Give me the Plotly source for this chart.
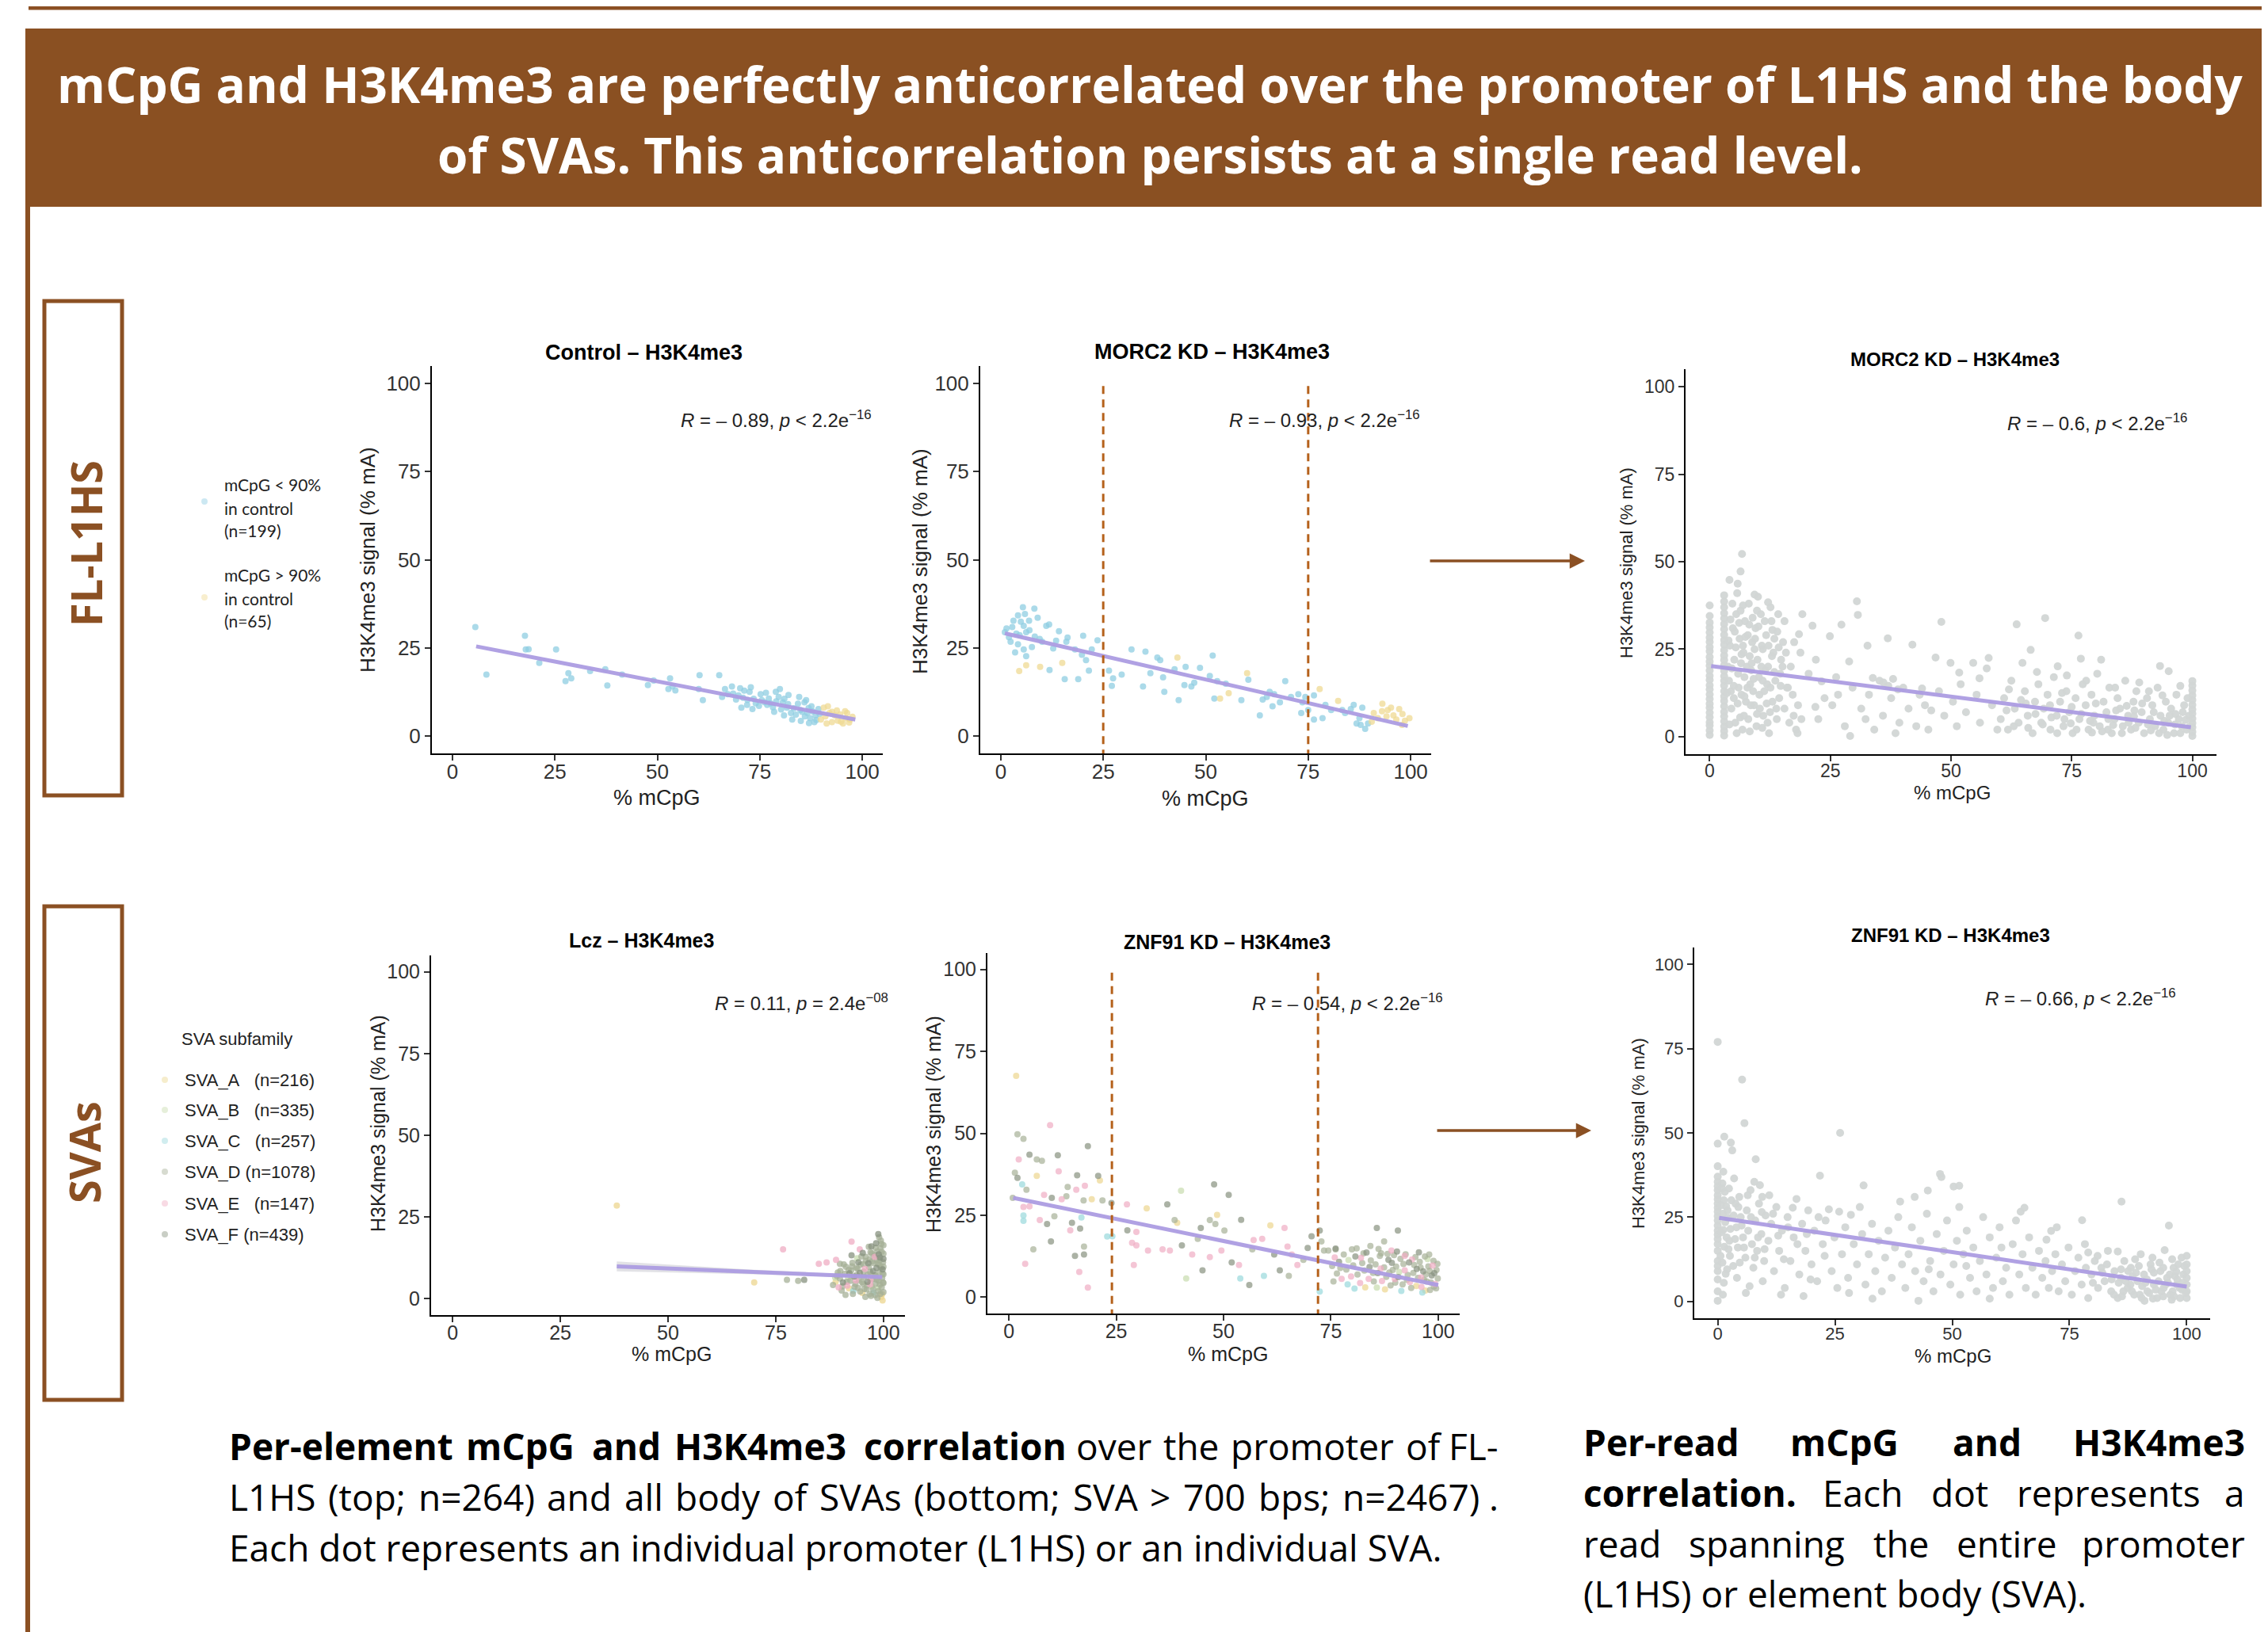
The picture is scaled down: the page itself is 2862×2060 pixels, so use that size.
import plotly.graph_objects as go

W, H = 2862, 2060
OFF = 8  # default page margin of the html body
BROWN = "#8b5023"
DASH = "#b5611b"
FIT = "rgba(172,156,226,0.95)"
CHART_FONT = "Liberation Sans, Arial, sans-serif"
TEXT_FONT = "Open Sans, Lato, sans-serif"

TICKS = [0, 25, 50, 75, 100]
TICK_LABELS = ["0", "25", "50", "75", "100"]

# ---------------- data ----------------
ctrl_low = [(5.6,30.9),(8.3,17.4),(17.7,28.4),(18.6,24.6),(17.9,24.5),(25.3,24.5),(21.2,20.7),(28.3,17.8),(27.6,15.5),(29.0,16.3),
            (33.6,18.4),(37.8,14.3),(37.3,18.9),(41.4,17.4),(47.7,14.4),(49.1,15.7),(53.1,16.3),(52.7,13.3),(54.4,12.9),(53.7,14.0),
            (60.3,17.2),(60.1,13.3),(61.1,10.1),(65.1,17.2),(66.5,13.3),(68.2,14.0),(65.8,11.0),(67.2,11.8),(69.2,10.3),(70.5,8.0),
            (72.5,12.5),(71.9,8.8),(73.2,7.6),(75.2,11.8),(76.2,9.5),(77.2,10.6),(78.9,12.5),(79.9,13.3),(79.6,11.0),(80.6,9.5),
            (81.6,8.0),(82.9,4.6),(82.6,6.5),(84.3,9.1),(84.9,7.3),(85.9,9.5),(86.6,6.5),(87.6,8.4),(88.3,3.9),(88.6,5.8),
            (89.3,7.6),(87.3,5.0),(68.5,12.0),(69.8,11.5),(70.9,10.8),(71.2,12.8),(72.0,10.2),(73.5,10.5),(74.0,9.2),(74.8,8.5),
            (75.5,10.1),(76.8,8.8),(77.6,9.2),(78.2,8.1),(79.0,9.8),(80.2,7.5),(81.0,10.5),(81.9,9.0),(83.3,7.8),(83.8,6.0),
            (85.3,6.8),(86.0,5.5),(86.9,7.9),(87.9,6.9),(88.8,4.5),(89.6,6.2),(70.2,13.5),(72.8,13.8),(76.5,12.2),(82.0,11.6),
            (84.6,11.0),(86.3,10.1),(78.5,6.8),(80.9,5.8),(85.0,4.2),(87.0,3.6)]
ctrl_high = [(90.6,8.0),(91.6,8.4),(92.0,6.5),(93.3,5.8),(94.0,4.3),(94.6,6.1),(96.0,5.0),(97.0,4.6),(97.6,5.4),(92.6,3.9),
             (95.3,3.5),(89.9,4.6),(91.3,3.5),(96.3,6.5),(93.8,7.2),(95.8,7.0),(91.0,5.5),(94.8,4.0),(96.8,3.8),(92.6,6.8)]
ctrl_fit_x = [5.8, 98.3]
ctrl_fit_y = [25.4, 4.6]

morc_low = [(5.4,36.5),(8.2,36.1),(4.2,34.2),(5.9,34.6),(9.0,33.5),(3.1,32.7),(4.9,32.4),(6.9,32.7),(1.4,30.5),(2.8,30.9),
            (5.6,31.2),(11.1,31.2),(11.8,31.6),(1.0,29.4),(3.8,29.0),(6.2,29.4),(8.3,28.2),(2.4,26.7),(4.2,26.0),(5.6,24.5),
            (3.5,23.7),(6.2,22.6),(7.6,25.2),(10.1,26.7),(14.2,29.7),(16.0,26.7),(16.3,27.9),(20.1,28.4),(18.1,24.5),(19.8,23.0),
            (20.8,21.5),(21.5,18.5),(22.2,24.5),(23.6,27.1),(15.6,16.1),(18.9,16.1),(11.9,18.7),(26.4,18.5),(27.4,16.3),(27.1,14.2),
            (29.5,17.4),(31.9,24.5),(35.3,23.9),(34.7,14.0),(38.2,22.2),(38.9,21.5),(36.5,17.8),(39.6,16.6),(39.9,12.5),(42.4,18.9),
            (45.1,19.6),(43.4,10.1),(44.8,14.4),(46.5,14.0),(47.2,15.1),(48.6,19.3),(51.7,22.8),(51.0,17.0),(52.1,10.6),(52.8,15.5),
            (54.9,14.8),(58.7,10.1),(60.4,15.9),(63.2,5.8),(64.9,11.0),(66.3,8.4),(69.4,15.5),(70.8,11.0),(72.6,11.8),(73.3,6.5),
            (73.6,9.5),(76.4,4.6),(76.4,11.5),(78.5,5.0),(79.2,8.8),(83.3,7.3),(85.4,7.6),(87.5,5.0),(88.2,8.0),(88.9,2.0),
            (89.6,3.5),(86.8,3.5),(66.7,11.8),(68.1,9.5),(74.3,11.0),(75.0,7.3),(80.6,7.3),(84.0,6.5),(86.1,8.8),(87.8,3.1),
            (65.6,12.5),(63.9,10.3),(2.0,28.0),(7.0,30.0),(9.5,27.5),(12.8,24.8),(13.5,27.0),(4.6,28.6)]
morc_high = [(4.5,18.4),(6.2,20.0),(9.6,19.6),(15.0,20.7),(43.1,22.2),(53.5,10.6),(55.6,12.1),(60.1,17.8),(77.8,13.3),(82.3,9.9),
             (93.1,9.1),(91.0,6.5),(94.4,7.3),(95.8,5.8),(97.2,7.6),(98.6,4.3),(99.7,5.0),(96.5,4.6),(94.1,5.5),(92.0,5.0),
             (97.9,3.1),(93.0,7.0),(95.2,8.0),(98.0,6.2),(90.5,4.0)]
morc_fit_x = [1.0, 99.3]
morc_fit_y = [29.1, 2.8]

read_morc = [(0,0.5),(0,1.8),(0,3.2),(0,4.1),(0,5.6),(0,6.9),(0,8.3),(0,9.4),(0,10.8),(0,12.1),(0,13.5),(0,14.7),(0,16.2),(0,17.4),
             (0,18.9),(0,20.3),(0,21.5),(0,22.8),(0,24.4),(0,25.6),(0,27.1),(0,28.3),(0,29.8),(0,31.2),(0,32.6),(0,34.5),(0,37.5),
             (3,0.3),(3,1.6),(3,2.9),(3,4.4),(3,5.8),(3,7.1),(3,8.7),(3,10.2),(3,11.5),(3,13.0),(3,14.6),(3,16.0),(3,17.3),(3,18.8),
             (3,20.4),(3,21.9),(3,23.2),(3,24.7),(3,26.3),(3,27.6),(3,29.1),(3,30.7),(3,32.2),(3,33.8),(3,35.3),(3,37.0),(3,38.6),(3,40.4),
             (100,0.2),(100,1.4),(100,2.7),(100,3.9),(100,5.2),(100,6.6),(100,7.8),(100,9.1),(100,10.5),(100,11.8),(100,13.2),(100,14.6),(100,15.9),
             (4.2,26),(4.8,31),(5.1,22),(5.5,35),(5.9,18),(6.2,28),(6.6,12),(7.0,24),(7.3,33),(7.7,20),(8.1,38),(8.4,15),(8.8,27),(9.2,9),
             (9.5,31),(9.9,22),(10.2,17),(10.6,35),(11.0,25),(11.3,13),(11.7,29),(12.1,20),(12.5,7),(12.8,33),(13.2,24),(13.6,16),(14.0,30),
             (14.4,11),(14.8,22),(15.2,27),(4.5,8),(5.3,4),(6.0,14),(6.8,2),(7.5,10),(8.0,5),(8.6,19),(9.0,13),(9.7,3),(10.4,8),(11.1,6),
             (11.9,15),(12.3,1),(13.0,10),(13.9,5),(14.6,18),(15.5,8),(16.0,14),(16.5,4),(17.2,12),(17.9,2),(18.3,9),(19.0,5),(4.0,16),
             (4.7,38),(5.7,41),(6.4,36),(7.9,29),(8.9,34),(10.0,40),(10.8,26),(12.6,37),(13.4,28),(14.2,35),(15.8,24),(6.5,21),(7.2,17),
             (9.3,25),(11.5,19),(12.9,23),(5.0,11),(3.8,20),(4.4,13),(16.8,20),(18.8,24),(17.5,27),(5.2,30),(6.9,26),(8.3,23),(9.8,36),
             (3.6,12.5),(3.9,27.5),(4.3,33.5),(4.6,19.5),(5.0,14.5),(5.4,25.5),(5.8,9.5),(6.1,32.5),(6.3,5.5),(6.6,23.5),(6.9,37.5),
             (7.2,11.5),(7.4,28.5),(7.8,14.0),(8.2,32.0),(8.5,9.0),(8.7,21.0),(9.1,16.5),(9.4,28.0),(9.8,6.5),(10.1,31.5),(10.3,12.0),
             (10.7,20.0),(11.0,16.0),(11.4,33.0),(11.8,9.5),(12.2,26.0),(12.6,14.0),(13.0,30.5),(13.4,18.5),(13.8,8.0),(14.3,25.5),
             (14.7,14.5),(15.1,20.0),(4.1,3.5),(5.6,1.0),(7.1,6.0),(8.3,1.5),(10.9,2.5),(12.0,4.0),
             (6.7,52.2),(6.4,47.2),(4.1,44.8),(5.8,43.7),(9.3,40.6),(12.1,38.4),
             (15.5,33),(16.2,14),(17.4,6),(18.5,29.3),(19.2,35.0),(18.2,1),(20.5,18),(21.3,31.7),(22.0,22),(22.5,5),(23.8,11),(24.9,28.7),
             (25.4,9),(26.2,17),(27.3,32.0),(28.0,3),(29.1,0.2),(29.6,14),(30.5,38.7),(30.7,34.8),(31.4,8),(32.3,5),(33.0,12),(34.1,2),
             (35.2,16),(35.9,6),(36.9,28.1),(37.6,11),(38.5,1),(39.3,4),(40.1,14),(41.2,8),(42.0,26.3),(42.8,3),(43.5,12),(44.6,9),
             (45.3,2),(46.8,22.6),(47.5,13),(48.0,32.8),(48.6,6),(49.9,21.1),(50.4,10),(51.2,3),(52.0,15),(53.1,7),(54.6,21.1),(55.3,12),
             (56.0,4),(57.4,19.5),(57.8,22.5),(58.5,9),(59.6,2),(36.0,15.5),(37.0,14.5),(38.0,16.5),(39.0,13.5),(33.8,16.8),(44.0,13.8),
             (26.6,12),(21.9,8.5),(23.2,15.8),(28.9,21.5),(32.7,26.0),(45.9,7.5),(51.7,18.3),(55.9,16.7),
             (60.3,5),(61.0,11),(61.8,2),(62.5,16),(63.6,32.1),(63.2,8),(64.0,4),(64.8,21.1),(65.3,13),(65.9,6),(66.5,24.8),(66.9,1),
             (67.4,10),(68.1,15),(68.7,4),(69.5,33.9),(69.2,8),(70.0,12),(70.6,2),(71.3,17),(72.1,20.1),(71.9,6),(72.6,10),(73.3,3),
             (73.9,13),(74.5,7),(75.2,1),(75.8,11),(76.4,28.9),(76.9,22.3),(76.6,5),(77.3,15),(77.9,9),(78.5,2),(79.1,12),(79.7,6),
             (80.3,18),(80.8,3),(81.1,22.0),(81.6,10),(82.2,7),(82.8,14),(83.3,1),(83.9,5),(84.5,11),(85.0,8),(85.6,3),(86.1,16),
             (86.7,6),(87.3,2),(87.8,10),(88.4,13),(88.9,4),(89.5,7),(90.0,1),(90.6,11),(91.2,5),(91.7,9),(92.3,3),(92.8,14),(93.3,20.2),
             (93.4,6),(94.0,2),(94.5,10),(95.1,18.7),(95.0,4),(95.6,8),(96.2,1),(96.7,12),(97.2,5),(97.8,3),(98.3,9),(98.8,2),(99.3,6),
             (62.0,13.5),(67.8,18.5),(74.0,17.5),(78.0,16.0),(84.0,14.0),(89.0,15.5),(91.0,13.0),(97.5,14.5),(70.8,5.5),(79.5,4.0),
             (86.4,8.8),(93.8,11.8),(98.0,7.0),(99.0,11.0),(65.5,9.5),(73.0,12.5),(82.5,2.0),(88.0,7.5),(94.8,0.5),(96.5,6.5),
             (61.5,7.5),(63.0,3.0),(64.5,10.5),(66.0,2.5),(67.5,6.5),(69.0,3.5),(70.5,9.0),(72.0,1.0),(73.5,5.0),(75.0,8.5),(76.0,2.0),
             (77.0,6.5),(78.8,4.5),(80.0,9.5),(81.3,1.5),(82.6,5.0),(84.2,7.5),(85.4,1.0),(86.8,4.0),(88.2,2.5),(89.6,9.5),(90.8,3.5),
             (92.0,7.0),(93.1,1.0),(94.2,4.5),(95.3,6.0),(96.4,3.5),(97.5,1.0),(98.6,4.8),(99.4,2.8),(91.4,1.8),(87.9,5.8),(83.6,3.3),
             (79.2,1.2),(74.8,3.8)]
read_morc_fit_x = [0.3, 99.7]
read_morc_fit_y = [20.2, 2.7]

sva_lcz = [(38.1,28.5,'A'),(76.7,15.1,'E'),(70.0,5.0,'A'),(77.6,5.8,'D'),(81.6,5.8,'F'),(80.2,5.5,'D'),(85.0,10.7,'E'),(86.8,11.1,'E'),
           (89.0,11.9,'E'),(92.6,17.5,'E'),(94.5,15.1,'E'),(98.8,19.8,'F'),(96.6,15.9,'D'),(92.6,13.3,'F'),(89.9,10.7,'D'),(99.7,1.4,'A'),
           (88.3,4.2,'D'),(88.8,6.5,'B'),(89.4,8.0,'D'),(89.6,3.5,'E'),(88.9,5.2,'A'),(89.9,6.2,'D'),
           (90.3,2.5,'D'),(90.6,5.0,'F'),(91.0,7.6,'D'),(91.3,9.8,'D'),(91.6,4.0,'E'),(91.8,6.3,'B'),(90.8,10.5,'D'),(92.0,3.2,'A'),
           (92.3,5.5,'D'),(92.5,8.6,'D'),(92.8,11.0,'D'),(93.0,2.4,'C'),(93.2,6.8,'F'),(93.5,4.5,'D'),(93.7,9.5,'D'),(93.9,12.4,'B'),(92.9,1.5,'D'),
           (94.1,3.3,'D'),(94.3,5.8,'D'),(94.5,7.9,'F'),(94.7,10.4,'D'),(94.9,12.9,'D'),(95.1,1.8,'A'),(95.3,4.6,'D'),(95.5,6.7,'D'),
           (95.7,9.1,'E'),(95.9,11.6,'D'),(95.2,14.0,'F'),(95.8,0.6,'D'),
           (96.1,2.9,'D'),(96.3,5.2,'F'),(96.4,7.4,'D'),(96.6,9.8,'D'),(96.8,12.1,'D'),(97.0,14.2,'D'),(97.1,0.9,'D'),(97.3,3.8,'B'),
           (97.5,6.1,'D'),(97.6,8.5,'F'),(97.8,10.9,'D'),(97.9,13.3,'D'),(97.2,16.0,'F'),(97.7,1.9,'C'),
           (98.1,4.6,'D'),(98.2,7.1,'D'),(98.4,9.4,'F'),(98.5,11.8,'D'),(98.6,14.5,'D'),(98.8,2.3,'D'),(98.9,5.5,'D'),(99.0,8.0,'D'),
           (99.1,10.3,'D'),(99.2,12.6,'F'),(99.3,15.5,'D'),(99.4,17.8,'D'),(99.5,0.5,'A'),(99.6,3.5,'D'),(99.7,6.3,'D'),(99.8,9.0,'F'),
           (99.9,11.2,'D'),(100,13.8,'D'),(100,4.8,'D'),(100,2.0,'D'),(98.3,17.0,'F'),(99.0,18.8,'D'),(98.0,12.8,'E'),(97.4,11.5,'D'),
           (96.9,4.4,'E'),(95.6,3.0,'D'),(94.0,9.2,'D'),(91.2,1.2,'D'),(100,7.5,'D'),(99.3,1.5,'D'),(98.6,0.3,'D'),(99.8,-0.5,'A'),
           (90.0,8.5,'D'),(90.5,3.8,'D'),(91.5,5.2,'D'),(92.1,7.8,'F'),(92.7,9.9,'D'),(93.3,3.6,'D'),(93.8,7.3,'D'),(94.2,11.2,'F'),
           (94.6,2.2,'D'),(95.0,5.1,'D'),(95.4,8.3,'D'),(95.9,12.8,'D'),(96.2,4.1,'D'),(96.5,10.9,'F'),(96.9,8.2,'D'),(97.3,13.9,'D'),
           (97.6,2.9,'D'),(97.9,7.2,'D'),(98.2,15.6,'D'),(98.4,5.9,'D'),(98.7,10.7,'D'),(98.9,13.6,'F'),(99.2,4.3,'D'),(99.4,9.6,'D'),
           (99.6,14.4,'D'),(99.8,7.7,'D'),(100,12.2,'F'),(100,16.4,'D'),(100,9.8,'D'),(99.5,16.8,'D'),(98.1,1.1,'D'),(96.8,1.4,'D'),
           (95.3,10.6,'D'),(93.6,5.6,'E'),(91.9,8.8,'D'),(89.2,7.0,'D'),(97.0,5.8,'E'),(98.8,3.4,'B'),(99.9,5.0,'D'),(99.1,11.8,'D')]
lcz_fit_x = [38.1, 70.0, 99.7]
lcz_fit_y = [9.9, 8.2, 6.6]
lcz_ci_lo = [8.4, 7.5, 6.2]
lcz_ci_hi = [11.4, 8.9, 7.0]

sva_znf = [(1.7,67.5,'A'),(9.6,52.5,'E'),(2.0,49.7,'D'),(3.4,48.3,'D'),(18.4,46.1,'F'),(4.8,43.5,'F'),(6.5,42.0,'D'),(7.7,41.6,'D'),
           (11.4,43.3,'F'),(2.3,42.0,'E'),(11.6,38.4,'E'),(1.4,38.0,'D'),(2.0,36.4,'F'),(6.5,37.0,'A'),(15.9,37.2,'F'),(20.8,37.0,'F'),
           (21.2,35.6,'A'),(3.1,34.4,'C'),(4.1,32.8,'D'),(13.7,33.6,'D'),(17.7,34.0,'E'),(15.7,32.8,'E'),(40.1,32.5,'B'),(47.8,34.4,'F'),
           (51.2,31.2,'F'),(0.9,30.3,'D'),(8.2,31.2,'E'),(10.0,30.3,'F'),(12.3,29.9,'E'),(13.4,30.8,'D'),(17.4,29.5,'D'),(19.3,29.9,'A'),
           (21.8,29.5,'D'),(23.9,28.7,'F'),(36.9,28.3,'F'),(27.5,28.3,'E'),(32.1,27.1,'A'),(3.4,27.5,'E'),(4.8,27.7,'E'),(3.4,24.9,'C'),
           (3.4,23.3,'C'),(7.2,23.5,'E'),(8.9,22.3,'F'),(10.6,24.7,'D'),(14.7,22.7,'F'),(16.6,20.9,'F'),(14.3,20.4,'E'),(16.9,24.3,'C'),
           (22.9,18.5,'C'),(24.1,18.6,'C'),(27.6,20.4,'F'),(29.7,19.9,'E'),(28.7,16.6,'E'),(29.7,15.8,'E'),(32.4,14.2,'E'),(29.1,9.8,'E'),
           (9.8,17.0,'F'),(5.7,14.6,'D'),(3.8,10.2,'E'),(15.4,12.6,'F'),(17.5,13.0,'F'),(17.5,15.4,'D'),(16.4,7.7,'E'),(18.4,2.9,'E'),
           (35.8,14.6,'E'),(37.5,14.2,'E'),(38.6,23.5,'D'),(39.2,22.7,'A'),(41.3,5.7,'B'),(40.3,15.8,'F'),(44.7,21.1,'F'),(44.0,17.8,'D'),
           (46.8,23.5,'D'),(48.1,22.3,'D'),(48.5,25.1,'A'),(50.2,20.3,'D'),(45.1,8.2,'F'),(42.7,13.0,'E'),(46.8,12.2,'E'),(49.5,14.2,'E'),
           (51.9,10.6,'F'),(54.1,23.6,'F'),(53.6,9.8,'E'),(53.9,5.7,'C'),(56.0,3.7,'F'),(57.0,17.4,'E'),(56.7,14.6,'D'),(59.0,17.8,'E'),
           (60.9,21.9,'A'),(61.8,13.0,'F'),(59.4,6.5,'C'),(63.1,8.2,'F'),(64.2,21.1,'E'),(64.9,15.4,'E'),(65.2,6.5,'D'),(65.9,13.0,'E'),
           (67.2,9.8,'E'),(68.6,11.4,'D'),(69.6,15.0,'F'),(70.5,18.6,'F'),(72.4,20.3,'F'),(72.8,17.0,'D'),(73.4,14.2,'D'),(74.4,14.2,'D'),
           (76.1,14.6,'D'),(72.4,1.7,'C'),(79.9,14.6,'D'),(82.6,13.4,'D'),(84.2,15.6,'D'),(85.7,21.1,'F'),(87.4,17.0,'D'),(90.6,20.3,'F'),
           (86.7,13.4,'D'),(92.2,12.6,'E'),(89.1,14.2,'E'),
           (75.3,9.5,'D'),(75.9,12.1,'E'),(76.4,7.2,'D'),(76.9,10.8,'F'),(77.5,5.6,'E'),(78.0,13.0,'D'),(78.6,8.4,'D'),(79.1,11.3,'B'),
           (79.7,6.3,'E'),(75.6,4.8,'D'),(77.2,8.9,'D'),(78.9,3.9,'C'),(76.1,14.8,'F'),
           (80.2,9.7,'D'),(80.7,12.4,'F'),(81.2,6.9,'D'),(81.8,4.3,'E'),(82.3,10.4,'D'),(82.8,8.1,'D'),(83.3,13.6,'F'),(83.8,5.6,'E'),
           (84.3,11.2,'D'),(84.8,7.4,'D'),(81.0,14.9,'D'),(83.0,3.0,'A'),(84.0,9.2,'F'),(80.5,2.6,'C'),(82.0,12.0,'E'),(85.0,4.8,'D'),
           (85.4,10.0,'D'),(85.9,7.3,'F'),(86.4,12.6,'D'),(86.9,4.9,'E'),(87.4,9.1,'D'),(87.9,6.2,'D'),(88.4,11.4,'F'),(88.9,3.6,'D'),
           (89.4,8.3,'D'),(89.9,5.5,'E'),(86.1,14.7,'D'),(87.6,2.4,'A'),(88.2,13.2,'D'),(89.2,10.5,'F'),(85.7,2.9,'B'),(86.6,8.7,'E'),
           (88.6,7.5,'D'),(89.7,12.8,'D'),
           (90.2,9.3,'D'),(90.7,6.1,'F'),(91.2,11.7,'D'),(91.7,3.9,'D'),(92.2,8.2,'E'),(92.7,5.3,'D'),(93.2,10.6,'F'),(93.7,2.8,'D'),
           (94.2,7.4,'D'),(94.7,12.2,'D'),(90.4,13.9,'F'),(91.4,1.9,'C'),(92.4,13.1,'D'),(93.4,4.6,'E'),(94.4,9.8,'D'),(90.9,7.7,'B'),
           (91.9,10.1,'D'),(92.9,6.8,'D'),(93.9,11.5,'E'),(94.9,3.4,'A'),(90.0,4.4,'D'),(95.0,8.6,'F'),
           (95.3,5.9,'D'),(95.7,10.8,'D'),(96.1,3.1,'E'),(96.5,7.9,'F'),(96.9,12.4,'D'),(97.3,4.8,'D'),(97.7,9.4,'D'),(98.1,2.2,'D'),
           (98.5,6.6,'F'),(98.9,11.1,'D'),(99.3,4.0,'E'),(99.6,8.3,'D'),(99.9,5.7,'D'),(95.5,13.7,'F'),(96.3,1.4,'C'),(97.1,6.9,'D'),
           (97.9,13.0,'D'),(98.7,9.6,'E'),(99.5,2.7,'D'),(96.7,5.2,'D'),(98.3,4.5,'D'),(99.1,7.3,'F'),(95.9,9.0,'D'),(97.5,11.6,'B'),
           (99.8,10.2,'D'),(98.0,8.0,'D'),(96.0,6.0,'E'),(99.0,3.2,'D'),(97.0,2.0,'A')]
znf_fit_x = [1.0, 100.0]
znf_fit_y = [30.3, 3.7]

read_znf = [(0,0.2),(0,3.0),(0,6.5),(0,9.0),(0,10.5),(0,12.0),(0,15.0),(0,17.0),(0,18.5),(0,19.8),(0,21.0),(0,22.5),(0,24.0),
            (0,25.3),(0,26.6),(0,27.8),(0,29.0),(0,30.3),(0,31.5),(0,33.0),(0,34.2),(0,35.5),(0,37.0),(0,40.1),(0,46.8),(0,77.0),
            (1.4,48.9),(1.2,38.5),(1.0,35),(1.5,32.5),(1.3,30.0),(1.8,28.2),(1.1,26.0),(1.6,23.5),(1.2,21.2),(1.9,19.0),(1.4,16.2),
            (1.0,11.5),(1.7,8.2),(1.3,5.5),(2.1,27.0),(2.4,33.5),(2.2,24.8),(2.5,18.0),(2.8,47.1),(3.1,44.8),(2.6,13.5),
            (3.5,36.5),(3.8,29),(4.0,22),(4.3,16),(4.1,7),(4.6,31),(4.9,25),(5.2,65.8),(5.7,52.9),(5.4,19),(5.9,13),(6.2,27),(6.5,21),
            (6.8,4.5),(7.0,33),(7.3,17),(7.6,10),(8.1,42.2),(8.0,24),(8.4,15),(8.8,29),(9.0,34.5),(9.3,20),(9.6,6),(9.9,12),(10.2,25.5),
            (3.3,10.5),(6.0,2.5),(7.8,35.5),(9.5,31),
            (0.6,13.5),(0.8,20.5),(0.7,28.5),(0.9,33.5),(1.1,2.0),(2.0,9.5),(2.3,15.5),(2.7,21.5),(2.9,30.0),(3.4,25.5),(3.7,18.5),
            (4.4,28.0),(4.7,11.5),(5.1,22.5),(5.6,16.0),(6.4,31.5),(7.1,25.0),(7.9,13.0),(8.6,19.0),(9.4,26.5),(10.0,15.5),(11.8,26.0),
            (12.9,19.5),(14.1,12.5),(15.0,22.0),(17.0,17.0),(19.0,20.0),(21.5,25.0),
            (10.8,18),(11.4,23),(12.0,9),(12.5,28),(13.1,15),(13.7,21),(14.3,4),(14.9,25),(15.5,12),(16.2,19),(16.8,30.4),(17.4,8),
            (18.0,23),(18.3,1.6),(18.7,15),(19.3,27),(20.0,11),(20.6,21),(21.2,6),(21.8,37.3),(22.4,17),(23.0,24),(23.7,27.3),(24.3,9),
            (24.9,19),(25.5,4),(25.9,26.6),(26.1,50.0),(26.5,14),(27.2,22),(27.8,7),(28.4,25.7),(29.0,17),(29.7,11),(30.3,28.0),(30.8,20),
            (31.1,34.4),(31.5,5),(32.2,14),(32.9,23),(33.6,9),(34.3,18),(35.0,3),(35.7,13),(36.4,21),(37.1,7),(37.8,16),(38.5,25),
            (38.9,29.6),(39.3,11),(19.8,6.5),(13.5,2.0),(28.0,2.5),(33.0,0.8),(22.8,13.5),(16.0,27.8),(11.0,31.5),
            (40.0,4),(40.7,14),(41.4,22),(42.0,31.0),(42.1,9),(42.8,0.2),(43.2,18),(43.9,6),(44.6,26),(44.8,32.9),(45.3,12),(46.0,3),
            (46.7,20),(47.4,37.8),(47.7,36.9),(47.5,8),(48.2,15),(48.9,24),(49.6,5),(50.3,34.1),(50.3,11),(51.0,18),(51.5,34.3),(51.5,28.0),
            (51.7,2),(52.4,14),(53.1,21),(53.8,7),(54.5,16),(55.2,3),(55.9,12),(56.6,25),(57.3,8),(58.0,19),(58.7,4),(59.4,13),(60.1,22),
            (60.8,6),(61.5,10),(62.2,2),(62.9,17),(63.6,24),(64.3,8),(64.6,26.6),(65.0,14),(65.4,27.8),(65.7,4),(66.4,19),(67.1,10),
            (67.8,2),(68.5,15),(69.2,7),(69.9,12),(70.1,18.3),(71.1,20.9),(72.3,22.0),(70.6,4),(71.3,9),(72.0,14),(72.7,3),(73.4,11),
            (74.1,6),(74.8,16),(45.0,9.5),(53.0,10.5),(60.5,16.0),(58.0,0.8),
            (75.5,2),(76.2,9),(76.9,13),(77.7,24.1),(77.6,5),(78.3,17),(79.0,1),(79.7,8),(80.4,12),(81.1,4),(81.8,10),(82.5,6),(83.2,15),
            (83.9,3),(84.6,9),(85.3,14.8),(85.3,1),(86.1,29.6),(86.0,7),(86.7,12),(87.4,4),(88.1,10),(88.8,2),(89.5,6),(90.2,14),(91.0,0.2),
            (90.9,8),(91.6,3),(92.3,11),(93.0,5),(93.7,1),(94.4,9),(95.1,4),(95.3,15.2),(95.8,7),(96.2,22.5),(96.5,2),(97.2,10),(97.9,5),
            (98.6,1),(99.3,8),(100,13.5),(100,11),(100,9),(100,7),(100,5),(100,3),(100,1),(99.0,3.5),(98.0,6.5),(97.0,3.0),(96.0,5.5),
            (95.0,1.5),(94.0,6.0),(93.0,8.5),(92.0,2.5),(91.5,6.5),(90.5,4.5),(89.8,10.5),(89.0,12.5),(88.5,7.5),(87.5,9.0),(86.5,3.0),
            (85.5,5.5),(84.0,6.5),(83.0,11.0),(82.0,8.5),(81.0,13.5),(80.0,5.5),(79.0,14.5),(78.5,10.0),(99.5,10.5),(98.5,4.0),(97.5,7.5),
            (96.8,0.5),(94.6,3.0),(92.7,13.0),(90.0,2.0),(88.0,5.0),(86.0,9.5),(84.5,2.0),
            (86.2,1.5),(87.0,6.0),(88.3,3.0),(89.2,8.5),(90.4,1.0),(91.2,5.5),(92.5,9.5),(93.4,3.5),(94.2,11.5),(95.5,5.0),(96.4,8.0),
            (97.3,1.5),(98.2,11.0),(99.1,5.5),(99.8,2.5),(92.8,0.8),(96.9,12.5),(95.0,10.0),(97.8,8.8),(98.9,13.0)]
read_znf_fit_x = [0.3, 100.0]
read_znf_fit_y = [24.8, 4.4]

sva_groups = ["A", "B", "C", "D", "E", "F"]
sva_names = ["SVA_A", "SVA_B", "SVA_C", "SVA_D", "SVA_E", "SVA_F"]
sva_counts = ["(n=216)", "(n=335)", "(n=257)", "(n=1078)", "(n=147)", "(n=439)"]
sva_colors = {"A": "#ecd68f", "B": "#c7dcae", "C": "#98d8dc", "D": "#a6b097", "E": "#efacc3", "F": "#87927f"}

panel_titles = ["Control \u2013 H3K4me3", "MORC2 KD \u2013 H3K4me3", "MORC2 KD \u2013 H3K4me3",
                "Lcz \u2013 H3K4me3", "ZNF91 KD \u2013 H3K4me3", "ZNF91 KD \u2013 H3K4me3"]
panel_stats = [("\u2013 0.89", "&lt;", "2.2e", "\u221216"), ("\u2013 0.93", "&lt;", "2.2e", "\u221216"),
               ("\u2013 0.6", "&lt;", "2.2e", "\u221216"), ("0.11", "=", "2.4e", "\u221208"),
               ("\u2013 0.54", "&lt;", "2.2e", "\u221216"), ("\u2013 0.66", "&lt;", "2.2e", "\u221216")]
morc_cutoffs = [25, 75]
znf_cutoffs = [24, 72]

# caption lines: (word, bold)
cap_left_1 = [("Per-element", 1), ("mCpG", 1), ("and", 1), ("H3K4me3", 1), ("correlation", 1),
              ("over", 0), ("the", 0), ("promoter", 0), ("of", 0), ("FL-", 0)]
cap_left_2 = [("L1HS", 0), ("(top;", 0), ("n=264)", 0), ("and", 0), ("all", 0), ("body", 0), ("of", 0), ("SVAs", 0),
              ("(bottom;", 0), ("SVA", 0), (">", 0), ("700", 0), ("bps;", 0), ("n=2467)", 0), (".", 0)]
cap_left_3 = "Each dot represents an individual promoter (L1HS) or an individual SVA."
cap_right_1 = [("Per-read", 1), ("mCpG", 1), ("and", 1), ("H3K4me3", 1)]
cap_right_2 = [("correlation.", 1), ("Each", 0), ("dot", 0), ("represents", 0), ("a", 0)]
cap_right_3 = [("read", 0), ("spanning", 0), ("the", 0), ("entire", 0), ("promoter", 0)]
cap_right_4 = "(L1HS) or element body (SVA)."

# ---------------- layout geometry (window pixels) ----------------
FW = W - OFF
FH = H - OFF


def PX(x):
    return (x - OFF) / FW


def PY(y):
    return 1 - (y - OFF) / FH


rects = [(545, 1114, 462, 951), (1237, 1806, 462, 951), (2127, 2797, 466, 952),
         (544, 1142, 1206, 1660), (1246, 1842, 1203, 1658), (2138, 2789, 1196, 1664)]
tick_sizes = [26, 26, 23, 25, 25, 22]
title_pos = [(813, 445, 27), (1529, 444, 27), (2467, 454, 24), (809, 1187, 25), (1548, 1189, 25), (2461, 1180, 24)]
stat_pos = [(979, 529), (1671, 529), (2646, 533), (1011, 1265), (1700, 1265), (2625, 1259)]
xt_pos = [(829, 1007, 27), (1521, 1008, 27), (2463, 1000, 24), (847, 1709, 25), (1549, 1709, 25), (2464, 1711, 24)]
yt_pos = [(464, 707, 26), (1161, 709, 26), (2053, 711, 22), (477, 1418, 25), (1178, 1419, 25), (2067, 1431, 22)]

fig = go.Figure()
layout_axes = {}
for i, (l, r, t, b) in enumerate(rects):
    n = "" if i == 0 else str(i + 1)
    common = dict(range=[-5, 105], showline=True, linecolor="black", linewidth=2, ticks="outside",
                  ticklen=7, tickwidth=2, tickcolor="#333333", tickvals=TICKS, ticktext=TICK_LABELS,
                  tickfont=dict(family=CHART_FONT, size=tick_sizes[i], color="#333333"),
                  showgrid=False, zeroline=False, fixedrange=True)
    layout_axes["xaxis" + n] = dict(domain=[PX(l), PX(r)], anchor="y" + n, ticklabelstandoff=-8, **common)
    layout_axes["yaxis" + n] = dict(domain=[PY(b), PY(t)], anchor="x" + n, **common)


def ax(i):
    n = "" if i == 0 else str(i + 1)
    return "x" + n, "y" + n


def pts(data, size, color, opacity, i):
    xa, ya = ax(i)
    fig.add_trace(go.Scatter(x=[p[0] for p in data], y=[p[1] for p in data], mode="markers",
                             marker=dict(size=size, color=color, opacity=opacity, line=dict(width=0)),
                             xaxis=xa, yaxis=ya, showlegend=False, hoverinfo="skip"))


def fit(xs, ys, i):
    xa, ya = ax(i)
    fig.add_trace(go.Scatter(x=xs, y=ys, mode="lines", line=dict(color=FIT, width=5),
                             xaxis=xa, yaxis=ya, showlegend=False, hoverinfo="skip"))


BLUE = "#8fcde2"
YELLOW = "#efd993"
GREY = "#d2d6d5"

pts(ctrl_low, 8, BLUE, 0.75, 0)
pts(ctrl_high, 8, YELLOW, 0.75, 0)
fit(ctrl_fit_x, ctrl_fit_y, 0)

pts(morc_low, 8, BLUE, 0.75, 1)
pts(morc_high, 8, YELLOW, 0.75, 1)
fit(morc_fit_x, morc_fit_y, 1)

pts(read_morc, 10, GREY, 0.95, 2)
fit(read_morc_fit_x, read_morc_fit_y, 2)

xa, ya = ax(3)
fig.add_trace(go.Scatter(x=lcz_fit_x + lcz_fit_x[::-1], y=lcz_ci_hi + lcz_ci_lo[::-1], fill="toself",
                         fillcolor="rgba(190,190,200,0.45)", line=dict(width=0), mode="lines",
                         xaxis=xa, yaxis=ya, showlegend=False, hoverinfo="skip"))
for g in sva_groups:
    pts([p for p in sva_lcz if p[2] == g], 8, sva_colors[g], 0.75, 3)
fit(lcz_fit_x, lcz_fit_y, 3)

for g in sva_groups:
    pts([p for p in sva_znf if p[2] == g], 8, sva_colors[g], 0.7, 4)
fit(znf_fit_x, znf_fit_y, 4)

pts(read_znf, 10, GREY, 0.95, 5)
fit(read_znf_fit_x, read_znf_fit_y, 5)

shapes = []
for c in morc_cutoffs:
    shapes.append(dict(type="line", xref="x2", yref="y2", x0=c, x1=c, y0=99.3, y1=-5,
                       line=dict(color=DASH, width=3, dash="10px,7px")))
for c in znf_cutoffs:
    shapes.append(dict(type="line", xref="x5", yref="y5", x0=c, x1=c, y0=99.0, y1=-5,
                       line=dict(color=DASH, width=3, dash="10px,7px")))

shapes.append(dict(type="line", xref="paper", yref="paper", x0=PX(36), x1=1, y0=PY(10), y1=PY(10),
                   line=dict(color=BROWN, width=5)))
shapes.append(dict(type="rect", xref="paper", yref="paper", x0=PX(32), x1=1, y0=PY(261), y1=PY(36),
                   fillcolor="#8a5022", line=dict(width=0), layer="below"))
shapes.append(dict(type="line", xref="paper", yref="paper", x0=PX(35), x1=PX(35), y0=PY(259), y1=0,
                   line=dict(color=BROWN, width=6)))
for (t, b) in [(380, 1004), (1144, 1767)]:
    shapes.append(dict(type="rect", xref="paper", yref="paper", x0=PX(56), x1=PX(154), y0=PY(b), y1=PY(t),
                       line=dict(color=BROWN, width=5), fillcolor="rgba(0,0,0,0)"))


def dot(cx, cy, r, color):
    shapes.append(dict(type="circle", xref="paper", yref="paper", x0=PX(cx - r), x1=PX(cx + r),
                       y0=PY(cy + r), y1=PY(cy - r), fillcolor=color, opacity=0.45, line=dict(width=0)))


dot(258, 633, 4, BLUE)
dot(258, 754, 4, YELLOW)
sva_item_y = [1363, 1401, 1440, 1479, 1519, 1558]
for g, yy in zip(sva_groups, sva_item_y):
    dot(208, yy, 4, sva_colors[g])

ann = []


def text(x, y, s, size, family=CHART_FONT, color="#000000", xanchor="center", angle=0, yanchor="middle"):
    ann.append(dict(xref="paper", yref="paper", x=PX(x), y=PY(y), text=s, showarrow=False, xanchor=xanchor,
                    yanchor=yanchor, textangle=angle, font=dict(family=family, size=size, color=color)))


for i in range(6):
    tx, ty, ts = title_pos[i]
    text(tx, ty, "<b>" + panel_titles[i] + "</b>", ts)
    r, op, base, ex = panel_stats[i]
    sx, sy = stat_pos[i]
    text(sx, sy, "<i>R</i> = " + r + ", <i>p</i> " + op + " " + base + "<sup>" + ex + "</sup>", 24, color="#222222")
    xx, xy, xs = xt_pos[i]
    text(xx, xy, "% mCpG", xs, color="#222222")
    yx, yy, ys = yt_pos[i]
    text(yx, yy, "H3K4me3 signal (% mA)", ys, color="#222222", angle=-90)

text(1451, 106, "<b>mCpG and H3K4me3 are perfectly anticorrelated over the promoter of L1HS and the body</b>", 62,
     family=TEXT_FONT, color="#ffffff")
text(1451, 195, "<b>of SVAs. This anticorrelation persists at a single read level.</b>", 62,
     family=TEXT_FONT, color="#ffffff")

text(108, 686, "<b>FL-L1HS</b>", 54, family=TEXT_FONT, color=BROWN, angle=-90)
text(106, 1455, "<b>SVAs</b>", 54, family=TEXT_FONT, color=BROWN, angle=-90)

for s, yy in [("mCpG &lt; 90%", 611), ("in control", 641), ("(n=199)", 669),
              ("mCpG &gt; 90%", 726), ("in control", 755), ("(n=65)", 783)]:
    text(281, yy, s, 21, family="Lato, sans-serif", color="#222222", xanchor="left")
text(227, 1311, "SVA subfamily", 22, color="#222222", xanchor="left")
for nm, cnt, yy in zip(sva_names, sva_counts, sva_item_y):
    gap = "\u00a0" if len(cnt) > 7 or nm == "SVA_F" else "\u00a0\u00a0\u00a0"
    text(231, yy, nm + gap + cnt, 22, color="#222222", xanchor="left")

for (x0, x1, y) in [(1803, 2000, 708), (1812, 2008, 1427)]:
    ann.append(dict(xref="paper", yref="paper", x=PX(x1), y=PY(y), ax=-(x1 - x0), ay=0, text="",
                    showarrow=True, arrowhead=2, arrowsize=1.1, arrowwidth=3.5, arrowcolor=BROWN))

# ---------- justified captions ----------
CW = {' ': .26, 'a': .556, 'b': .613, 'c': .49, 'd': .613, 'e': .561, 'f': .339, 'g': .548, 'h': .614, 'i': .253,
      'l': .253, 'm': .930, 'n': .614, 'o': .604, 'p': .613, 'r': .408, 's': .477, 't': .353, 'u': .614, 'v': .501,
      'w': .778, 'y': .502, 'z': .468, 'k': .525, 'A': .633, 'B': .648, 'C': .631, 'D': .729, 'E': .556, 'F': .516,
      'G': .728, 'H': .738, 'L': .519, 'M': .903, 'P': .604, 'S': .549, 'V': .592, '(': .295, ')': .295, ';': .266,
      '.': .266, ',': .245, '=': .572, '>': .572, '-': .322, '%': .826}


def word_w(w, bold, size):
    return sum(CW.get(c, .572) for c in w) * size * (1.08 if bold else 1.0)


def esc(w):
    return w.replace(">", "&gt;").replace("<", "&lt;")


def justify(words, y, left, right, size):
    widths = [word_w(w, b, size) for w, b in words]
    gap = (right - left - sum(widths)) / (len(words) - 1)
    x = left
    for k, (w, b) in enumerate(words):
        s = "<b>" + esc(w) + "</b>" if b else esc(w)
        if k == len(words) - 1:
            text(right, y, s, size, family=TEXT_FONT, xanchor="right")
        else:
            text(x, y, s, size, family=TEXT_FONT, xanchor="left")
        x += widths[k] + gap


BF = 46
justify(cap_left_1, 1825, 287, 1893, BF)
justify(cap_left_2, 1889, 287, 1893, BF)
text(287, 1953, esc(cap_left_3), BF, family=TEXT_FONT, xanchor="left")
justify(cap_right_1, 1820, 1996, 2835, BF)
justify(cap_right_2, 1884, 1996, 2835, BF)
justify(cap_right_3, 1948, 1996, 2835, BF)
text(1996, 2011, esc(cap_right_4), BF, family=TEXT_FONT, xanchor="left")

fig.update_layout(width=FW, height=FH, margin=dict(l=0, r=0, t=0, b=0), paper_bgcolor="white",
                  plot_bgcolor="white", showlegend=False, shapes=shapes, annotations=ann, **layout_axes)
fig.write_html("out.html", config={"displayModeBar": False})
